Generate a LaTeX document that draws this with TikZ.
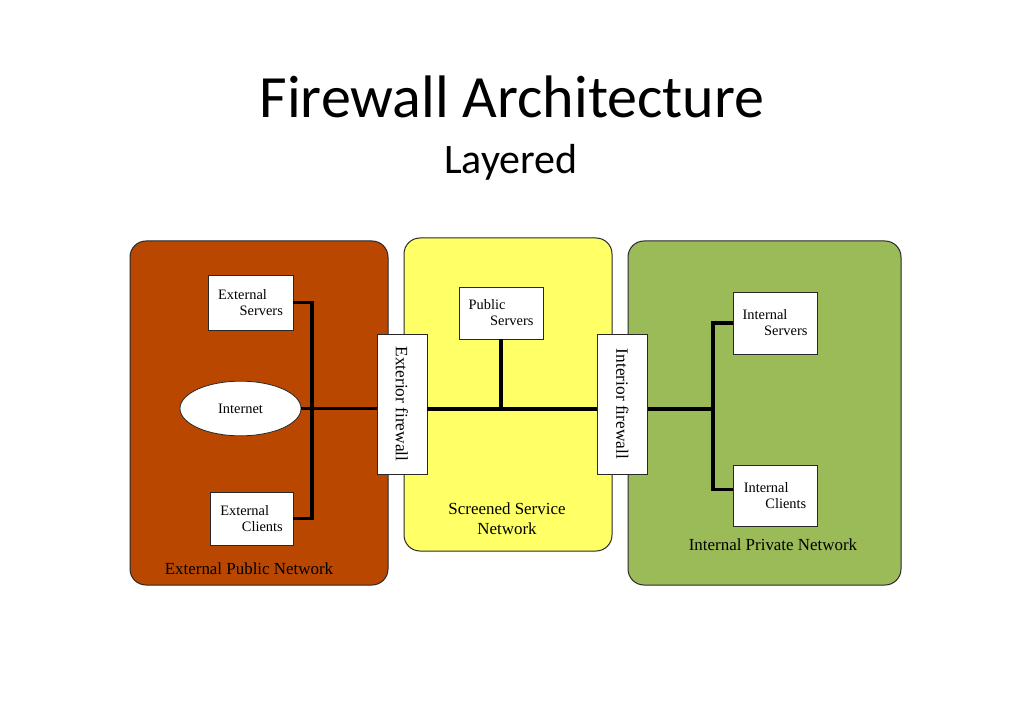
\documentclass[tikz,border=0pt]{standalone}
\usepackage{fontspec}
\setmainfont{Liberation Serif}
\newfontfamily\titlefont{Carlito}
\usetikzlibrary{shapes.geometric}
\definecolor{extbrown}{RGB}{185,71,0}
\definecolor{scryellow}{RGB}{255,255,102}
\definecolor{intgreen}{RGB}{155,187,89}
\definecolor{edgegray}{RGB}{40,40,40}
\tikzset{
  region/.style={draw=edgegray, line width=0.75pt, rounded corners=12pt},
  hostbox/.style={draw=edgegray, fill=white, line width=0.6pt, rectangle, inner sep=0pt,
    align=left, font=\fontsize{10.8}{12}\selectfont},
  fwbox/.style={draw=edgegray, fill=white, line width=0.6pt, rectangle, inner sep=0pt,
    rotate=-90, font=\fontsize{13}{15}\selectfont},
  reglabel/.style={font=\fontsize{12.7}{15}\selectfont, align=center, anchor=base},
  net/.style={line width=2.3pt, black},
}
\begin{document}
\begin{tikzpicture}[x=0.75pt, y=-0.75pt]
\useasboundingbox (0,0) rectangle (1023,723);
\fill[white] (0,0) rectangle (1023,723);

% title
\node[anchor=base, font=\titlefont\fontsize{45}{50}\selectfont, inner sep=0pt] (title) at (512,118) {Firewall Architecture};
\node[anchor=base, font=\titlefont\fontsize{31.5}{36}\selectfont, inner sep=0pt] (subtitle) at (511,174) {Layered};

% regions
\draw[region, fill=extbrown] (130,241) rectangle (388,585);
\draw[region, fill=scryellow] (404,238) rectangle (612,551);
\draw[region, fill=intgreen] (628,241) rectangle (901,585);

% region labels
\node[reglabel, inner sep=0pt] (extlbl) at (249,574) {External Public Network};
\node[reglabel, inner sep=0pt] (scrlbl) at (507,534) {Screened Service\\Network};
\node[reglabel, inner sep=0pt] (intlbl) at (773,550) {Internal Private Network};

% hosts
\node[hostbox, minimum width=63.75pt, minimum height=41.25pt] (es) at (250.5,302.5) {External\\\hspace*{1.5em}Servers};
\node[draw=edgegray, fill=white, line width=0.6pt, ellipse, inner sep=0pt, minimum width=90.75pt, minimum height=41pt, font=\fontsize{10.8}{12}\selectfont] (inet) at (240.5,408.5) {Internet};
\node[hostbox, minimum width=62.25pt, minimum height=39.75pt] (ec) at (251.5,518.5) {External\\\hspace*{1.5em}Clients};
\node[hostbox, minimum width=63pt, minimum height=39pt] (ps) at (501,313) {Public\\\hspace*{1.5em}Servers};
\node[hostbox, minimum width=63pt, minimum height=46.5pt] (is) at (775,323) {Internal\\\hspace*{1.5em}Servers};
\node[hostbox, minimum width=63pt, minimum height=45.75pt] (ic) at (775,495.5) {Internal\\\hspace*{1.5em}Clients};

% firewalls
\node[fwbox, minimum width=105pt, minimum height=37.5pt] (fw1) at (402,404) {Exterior firewall};
\node[fwbox, minimum width=105pt, minimum height=37pt] (fw2) at (622.5,404) {Interior firewall};

% junctions
\coordinate (j1) at (312,409);
\coordinate (bus) at (501,409);
\coordinate (j2) at (713,409);

% connectors
\draw[net] (es.east) -| (j1) |- (ec.east);
\draw[net] (inet.east) -- (inet.east -| fw1.south);
\draw[net] (fw1.north |- bus) -- (fw2.south |- bus);
\draw[net] (ps.south) -- (bus);
\draw[net] (fw2.north |- j2) -- (j2);
\draw[net] (is.west) -| (j2) |- ([yshift=4.5pt]ic.west);
\end{tikzpicture}
\end{document}
